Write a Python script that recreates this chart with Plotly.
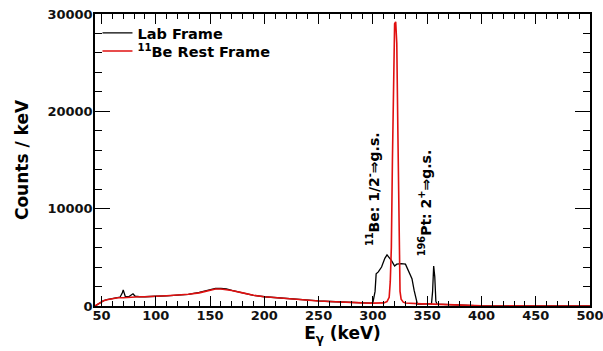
import plotly.graph_objects as go

# Lab frame spectrum (keV, counts/keV)
lab_energy = [44, 46, 48, 50, 52, 55, 60, 65, 67, 69, 70, 71, 72, 75, 77, 79, 81, 83, 85, 90, 95,
              100, 110, 120, 130, 140, 145, 150, 155, 160, 165, 170, 180, 190, 200, 210, 220, 230,
              240, 250, 260, 270, 280, 290, 298, 300, 302, 303, 305, 308, 311, 313, 315, 317, 319,
              320, 322, 326, 330, 332, 334, 336, 338, 340, 341, 345, 350, 354, 355, 356, 357, 358,
              359, 365, 370, 380, 385, 390, 400, 450, 500]
lab_counts = [0, 150, 300, 450, 550, 650, 750, 850, 900, 1300, 1650, 1300, 950, 950, 1100, 1250,
              1000, 950, 950, 950, 1000, 1000, 1050, 1100, 1200, 1400, 1550, 1700, 1800, 1800, 1750,
              1600, 1350, 1100, 950, 850, 750, 650, 580, 520, 460, 400, 350, 320, 300, 350, 1500,
              3300, 3500, 4000, 4900, 5250, 5000, 4700, 4300, 4100, 4300, 4350, 4300, 3800, 3300,
              2800, 1600, 500, 200, 200, 200, 250, 1500, 4100, 3000, 500, 200, 180, 150, 100, 60,
              30, 10, 5, 0]

# 11Be rest frame spectrum
rest_energy = [44, 46, 48, 50, 52, 55, 60, 65, 70, 75, 80, 85, 90, 95, 100, 110, 120, 130, 140,
               145, 150, 155, 160, 165, 170, 180, 190, 200, 210, 220, 230, 240, 250, 260, 270,
               280, 290, 300, 305, 310, 313, 315, 316, 317, 318, 319, 320, 321, 322, 323, 324,
               325, 326, 328, 330, 335, 340, 345, 350, 355, 360, 365, 370, 375, 380, 385, 390,
               400, 450, 500]
rest_counts = [0, 150, 300, 450, 550, 650, 750, 850, 850, 900, 950, 950, 950, 1000, 1000, 1050,
               1100, 1200, 1350, 1500, 1650, 1750, 1750, 1700, 1600, 1350, 1100, 950, 850, 750,
               650, 580, 520, 460, 400, 350, 320, 300, 300, 320, 450, 900, 2500, 6000, 15000,
               25000, 29000, 29200, 27000, 18000, 6000, 1500, 700, 400, 300, 250, 220, 220, 220,
               200, 180, 160, 150, 120, 80, 40, 20, 10, 5, 0]

x_ticks = [50, 100, 150, 200, 250, 300, 350, 400, 450, 500]
y_ticks = [0, 10000, 20000, 30000]

FONT = "DejaVu Sans"

fig = go.Figure()
fig.add_trace(go.Scatter(x=lab_energy, y=lab_counts, mode="lines", name="Lab Frame",
                         line=dict(color="black", width=1.3), legend="legend"))
fig.add_trace(go.Scatter(x=rest_energy, y=rest_counts, mode="lines",
                         name="<sup>11</sup>Be Rest Frame",
                         line=dict(color="#e01010", width=1.6), legend="legend2"))

fig.add_annotation(x=300, y=12000, xref="x", yref="y", textangle=-90, showarrow=False,
                   text="<sup>11</sup>Be: 1/2<sup>-</sup>⇒g.s.",
                   font=dict(family=FONT, size=14, color="black", weight="bold"))
fig.add_annotation(x=347.5, y=10600, xref="x", yref="y", textangle=-90, showarrow=False,
                   text="<sup>196</sup>Pt: 2<sup>+</sup>⇒g.s.",
                   font=dict(family=FONT, size=14, color="black", weight="bold"))

axis_common = dict(showline=True, linecolor="black", linewidth=1.5, mirror="ticks",
                   ticks="inside", tickcolor="black", tickwidth=1.2, showgrid=False,
                   zeroline=False, automargin=False, ticklabeloverflow="allow",
                   tickfont=dict(family=FONT, size=13, color="#111", weight="bold"))

fig.update_xaxes(range=[44, 500], tickvals=x_ticks, ticklen=10, ticklabelstandoff=-3,
                 minor=dict(dtick=10, ticklen=5, ticks="inside", tickcolor="black", showgrid=False),
                 title=dict(text="E<sub>γ</sub> (keV)", standoff=2,
                            font=dict(family=FONT, size=17, color="black", weight="bold")),
                 **axis_common)
fig.update_yaxes(range=[0, 30000], tickvals=y_ticks, tickformat="d", ticklen=15,
                 ticklabelstandoff=-2,
                 minor=dict(dtick=2000, ticklen=7, ticks="inside", tickcolor="black", showgrid=False),
                 title=dict(text="Counts / keV", standoff=14,
                            font=dict(family=FONT, size=17, color="black", weight="bold")),
                 **axis_common)

legend_common = dict(xanchor="left", yanchor="middle", bgcolor="rgba(0,0,0,0)",
                     font=dict(family=FONT, size=14.5, color="black", weight="bold"),
                     itemwidth=30, borderwidth=0)

fig.update_layout(
    width=603, height=351,
    margin=dict(l=95, r=13, t=14, b=45),
    plot_bgcolor="white", paper_bgcolor="white",
    showlegend=True,
    legend=dict(x=0.005, y=(306 - 33) / 292, **legend_common),
    legend2=dict(x=0.005, y=(306 - 51) / 292, **legend_common),
)

fig.write_html("out.html", config={"displayModeBar": False},
               post_script="document.body.style.margin='0';document.body.style.padding='0';")
